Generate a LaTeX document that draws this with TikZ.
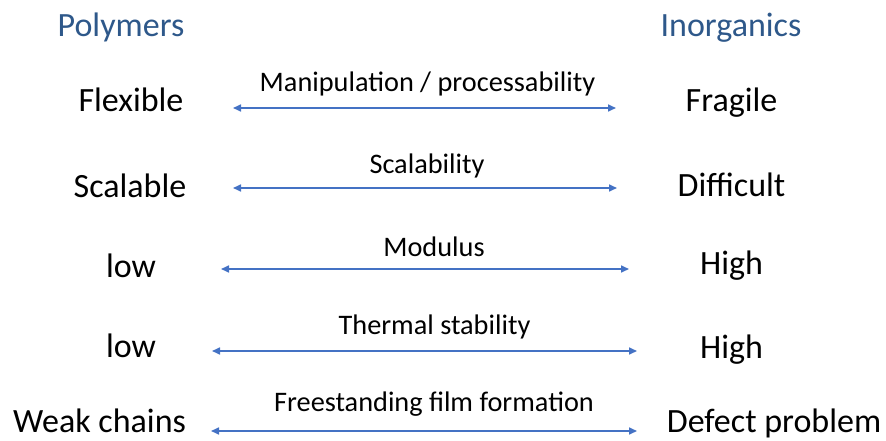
\documentclass[tikz,border=0pt]{standalone}
\usepackage{fontspec}
\setmainfont{Carlito}
\usetikzlibrary{arrows.meta}
\definecolor{headblue}{RGB}{46,88,138}
\definecolor{arrowblue}{RGB}{68,114,196}
\begin{document}
\begin{tikzpicture}[x=1pt,y=1pt,
  term/.style={anchor=base,inner sep=0pt,font=\fontsize{34}{40}\selectfont},
  head/.style={term,text=headblue},
  prop/.style={anchor=base,inner sep=0pt,font=\fontsize{28.3}{34}\selectfont},
  link/.style={draw=arrowblue,line width=1.6pt,
    {Triangle[length=8pt,width=7pt]}-{Triangle[length=8pt,width=7pt]}}]
\useasboundingbox (0,0) rectangle (886,-441);

% column headings
\node[head] (poly) at (121,-37) {Polymers};
\node[head] (inorg) at (731,-37) {Inorganics};

% left column: polymers
\node[term] (flex)  at (131,-112) {Flexible};
\node[term] (scal)  at (130,-197) {Scalable};
\node[term] (low1)  at (131,-277) {low};
\node[term] (low2)  at (131,-357) {low};
\node[term] (weak)  at (99.5,-432.5) {Weak chains};

% right column: inorganics
\node[term] (frag)  at (731.5,-112) {Fragile};
\node[term] (diff)  at (731.5,-196) {Difficult};
\node[term] (high1) at (731.5,-274) {High};
\node[term] (high2) at (731.5,-358) {High};
\node[term] (defect) at (774,-432.5) {Defect problem};

% property labels above the arrows
\node[prop] (manip)  at (427.5,-92) {Manipulation / processability};
\node[prop] (scaly)  at (427,-173) {Scalability};
\node[prop] (modul)  at (434,-256) {Modulus};
\node[prop] (therm)  at (434.5,-334) {Thermal stability};
\node[prop] (film)   at (434,-411) {Freestanding film formation};

% arrow end points
\coordinate (a1l) at (233,-108);  \coordinate (a1r) at (616,-108);
\coordinate (a2l) at (233,-188);  \coordinate (a2r) at (617,-188);
\coordinate (a3l) at (221,-269);  \coordinate (a3r) at (629,-269);
\coordinate (a4l) at (212,-351);  \coordinate (a4r) at (637,-351);
\coordinate (a5l) at (211,-431);  \coordinate (a5r) at (637,-431);

% double-headed comparison arrows
\draw[link] (a1l) -- (a1r);
\draw[link] (a2l) -- (a2r);
\draw[link] (a3l) -- (a3r);
\draw[link] (a4l) -- (a4r);
\draw[link] (a5l) -- (a5r);
\end{tikzpicture}
\end{document}
